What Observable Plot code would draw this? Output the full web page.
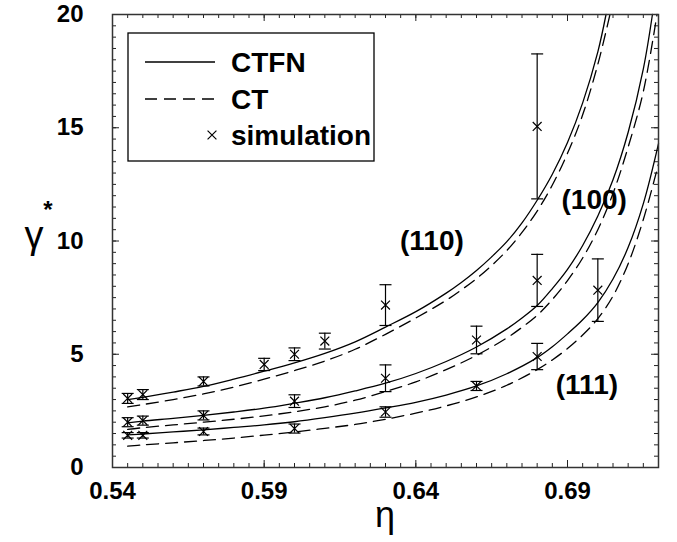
<!DOCTYPE html>
<html><head><meta charset="utf-8">
<script src="https://cdn.jsdelivr.net/npm/d3@7"></script>
<script src="https://cdn.jsdelivr.net/npm/@observablehq/plot@0.6"></script>
<style>body{margin:0;background:#fff}#chart{width:677px;height:542px}</style>
</head><body><div id="chart"></div>
<script>
// ---- axis ticks ----
const xTicks = [0.54, 0.59, 0.64, 0.69];
const yTicks = [0, 5, 10, 15, 20];

// ---- theory curves ----
const ctfn110Eta   = [0.545,0.55,0.56,0.57,0.58,0.59,0.60,0.61,0.62,0.63,0.64,0.65,0.655,0.66,0.665,0.67,0.675,0.68,0.685,0.69,0.695,0.70,0.7027];
const ctfn110Gamma = [3.00,3.10,3.33,3.58,3.90,4.25,4.62,5.04,5.55,6.20,6.88,7.70,8.17,8.70,9.30,9.97,10.80,11.80,12.95,14.35,16.10,18.35,20.0];
const ct110Eta     = [0.545,0.55,0.56,0.57,0.58,0.59,0.60,0.61,0.62,0.63,0.64,0.65,0.655,0.66,0.665,0.67,0.675,0.68,0.685,0.69,0.695,0.70,0.704];
const ct110Gamma   = [2.68,2.78,3.00,3.25,3.55,3.90,4.28,4.70,5.22,5.88,6.60,7.38,7.84,8.34,8.92,9.58,10.38,11.32,12.47,13.87,15.57,17.80,20.0];

const ctfn100Eta   = [0.545,0.55,0.56,0.57,0.58,0.59,0.60,0.61,0.62,0.63,0.64,0.65,0.66,0.67,0.675,0.68,0.685,0.69,0.695,0.70,0.705,0.71,0.715,0.718];
const ctfn100Gamma = [1.97,2.05,2.17,2.30,2.45,2.62,2.84,3.08,3.38,3.72,4.15,4.68,5.32,6.12,6.60,7.15,7.90,8.75,9.80,11.10,12.70,14.80,17.60,20.0];
const ct100Eta     = [0.545,0.55,0.56,0.57,0.58,0.59,0.60,0.61,0.62,0.63,0.64,0.65,0.66,0.67,0.675,0.68,0.685,0.69,0.695,0.70,0.705,0.71,0.715,0.7195];
const ct100Gamma   = [1.68,1.76,1.88,2.00,2.13,2.28,2.46,2.68,2.97,3.35,3.78,4.32,4.95,5.72,6.19,6.72,7.42,8.25,9.25,10.50,12.10,14.15,16.60,20.0];

const ctfn111Eta   = [0.545,0.55,0.56,0.57,0.58,0.59,0.60,0.61,0.62,0.63,0.64,0.65,0.66,0.67,0.68,0.685,0.69,0.695,0.70,0.705,0.71,0.715,0.72];
const ctfn111Gamma = [1.44,1.48,1.57,1.66,1.77,1.88,2.02,2.20,2.40,2.63,2.88,3.20,3.60,4.14,4.85,5.33,5.90,6.52,7.28,8.32,9.72,11.65,14.30];
const ct111Eta     = [0.545,0.55,0.56,0.57,0.58,0.59,0.60,0.61,0.62,0.63,0.64,0.65,0.66,0.67,0.68,0.685,0.69,0.695,0.70,0.705,0.71,0.715,0.72];
const ct111Gamma   = [0.94,1.00,1.09,1.19,1.30,1.43,1.57,1.73,1.90,2.13,2.40,2.72,3.12,3.63,4.32,4.75,5.25,5.85,6.57,7.57,9.00,10.95,13.40];

// ---- simulation points ----
const sim110Eta   = [0.545,0.55,0.57,0.59,0.60,0.61,0.63,0.68];
const sim110Gamma = [3.05,3.22,3.80,4.55,5.00,5.58,7.17,15.06];
const sim110Err   = [0.22,0.22,0.20,0.27,0.28,0.35,0.90,3.20];

const sim100Eta   = [0.545,0.55,0.57,0.60,0.63,0.66,0.68];
const sim100Gamma = [2.00,2.07,2.30,2.93,3.94,5.63,8.26];
const sim100Err   = [0.20,0.20,0.20,0.28,0.59,0.61,1.15];

const sim111Eta   = [0.545,0.55,0.57,0.60,0.63,0.66,0.68,0.70];
const sim111Gamma = [1.42,1.42,1.59,1.72,2.45,3.60,4.90,7.83];
const sim111Err   = [0.12,0.12,0.15,0.20,0.23,0.20,0.58,1.38];

// ---- curve labels ----
const familyNames = ["(110)", "(100)", "(111)"];
const familyLabelEta = [0.6453, 0.6988, 0.6964];
const familyLabelGamma = [10.0, 11.8, 3.66];

// ---- build tables ----
const toRows = (key, etas, gammas) => etas.map((e, i) => ({key, eta: e, gamma: gammas[i]}));
const solidRows = [
  ...toRows("110", ctfn110Eta, ctfn110Gamma),
  ...toRows("100", ctfn100Eta, ctfn100Gamma),
  ...toRows("111", ctfn111Eta, ctfn111Gamma)
];
const dashedRows = [
  ...toRows("110", ct110Eta, ct110Gamma),
  ...toRows("100", ct100Eta, ct100Gamma),
  ...toRows("111", ct111Eta, ct111Gamma)
];
const toPts = (etas, gammas, errs) => etas.map((e, i) => ({eta: e, gamma: gammas[i], err: errs[i]}));
const pts = [
  ...toPts(sim110Eta, sim110Gamma, sim110Err),
  ...toPts(sim100Eta, sim100Gamma, sim100Err),
  ...toPts(sim111Eta, sim111Gamma, sim111Err)
];
const labels = familyNames.map((t, i) => ({t, eta: familyLabelEta[i], gamma: familyLabelGamma[i]}));

const W = 677, H = 542, mL = 112, mR = 19, mT = 14, mB = 75;
const plotH = H - mT - mB, plotW = W - mL - mR;
const minorX = d3.range(0, 37).map(i => +(0.54 + i * 0.005).toFixed(3));
const minorY = d3.range(0, 41).map(i => i * 0.5);
const FONT = "'Liberation Sans', Arial, Helvetica, sans-serif";
const capSymbol = {draw(ctx) { ctx.moveTo(-6, 0); ctx.lineTo(6, 0); }};
const lineW = 1.3;
const markR = 4.1;

const svg = Plot.plot({
  width: W, height: H,
  marginLeft: mL, marginRight: mR, marginTop: mT, marginBottom: mB,
  style: {fontFamily: FONT, background: "white", color: "black"},
  x: {domain: [0.54, 0.72]},
  y: {domain: [0, 20]},
  marks: [
    // inward ticks on all four sides
    Plot.tickX(minorX, {x: d => d, insetTop: plotH - 4, stroke: "#222"}),
    Plot.tickX(minorX, {x: d => d, insetBottom: plotH - 4, stroke: "#222"}),
    Plot.tickX(xTicks, {x: d => d, insetTop: plotH - 7, stroke: "#222"}),
    Plot.tickX(xTicks, {x: d => d, insetBottom: plotH - 7, stroke: "#222"}),
    Plot.tickY(minorY, {y: d => d, insetRight: plotW - 4, stroke: "#222"}),
    Plot.tickY(minorY, {y: d => d, insetLeft: plotW - 4, stroke: "#222"}),
    Plot.tickY(yTicks, {y: d => d, insetRight: plotW - 7, stroke: "#222"}),
    Plot.tickY(yTicks, {y: d => d, insetLeft: plotW - 7, stroke: "#222"}),
    Plot.axisX(xTicks, {tickSize: 0, tickPadding: 14, tickFormat: d3.format(".2f"), fontSize: 24, fontWeight: "bold", label: null}),
    Plot.axisY(yTicks, {tickSize: 0, tickPadding: 29, fontSize: 24, fontWeight: "bold", label: null}),
    // theory curves
    Plot.line(solidRows, {x: "eta", y: "gamma", z: "key", stroke: "black", strokeWidth: lineW, curve: "catmull-rom"}),
    Plot.line(dashedRows, {x: "eta", y: "gamma", z: "key", stroke: "black", strokeWidth: lineW, strokeDasharray: "12,7", curve: "catmull-rom"}),
    // simulation with error bars
    Plot.ruleX(pts, {x: "eta", y1: d => d.gamma - d.err, y2: d => d.gamma + d.err, stroke: "black", strokeWidth: 1.2}),
    Plot.dot(pts, {x: "eta", y: d => d.gamma - d.err, symbol: capSymbol, stroke: "black", strokeWidth: 1.2, fill: "none"}),
    Plot.dot(pts, {x: "eta", y: d => d.gamma + d.err, symbol: capSymbol, stroke: "black", strokeWidth: 1.2, fill: "none"}),
    Plot.dot(pts, {x: "eta", y: "gamma", symbol: "times", r: markR, stroke: "black", strokeWidth: 1.2}),
    // family labels
    Plot.text(labels, {x: "eta", y: "gamma", text: "t", fontSize: 28, fontWeight: "bold", fill: "black"}),
    Plot.frame({stroke: "#333", strokeWidth: 1.5})
  ]
});

// legend and axis titles
const s = d3.select(svg);
const lg = s.append("g").attr("font-family", FONT).attr("font-weight", "bold").attr("font-size", 28).attr("text-anchor", "start");
lg.append("rect").attr("x", 128).attr("y", 33).attr("width", 246).attr("height", 128)
  .attr("fill", "white").attr("stroke", "black").attr("stroke-width", 1.3);
const legendItems = ["CTFN", "CT", "simulation"];
const rowY = [62, 99, 135];
lg.append("line").attr("x1", 145).attr("x2", 215).attr("y1", rowY[0]).attr("y2", rowY[0]).attr("stroke", "black").attr("stroke-width", lineW);
lg.append("line").attr("x1", 145).attr("x2", 215).attr("y1", rowY[1]).attr("y2", rowY[1]).attr("stroke", "black").attr("stroke-width", lineW).attr("stroke-dasharray", "12,7");
lg.append("path").attr("d", d3.symbol(d3.symbolTimes, markR * markR * Math.PI)()).attr("transform", `translate(212,${rowY[2]})`)
  .attr("stroke", "black").attr("stroke-width", 1.2).attr("fill", "none");
legendItems.forEach((t, i) => {
  lg.append("text").attr("x", 231).attr("y", rowY[i]).attr("dy", "0.36em").attr("text-anchor", "start").text(t);
});
s.append("text").attr("x", 385).attr("y", 518).attr("text-anchor", "middle").attr("dy", "0.25em")
  .attr("font-family", FONT).attr("font-size", 36).text("η");
s.append("text").attr("x", 34).attr("y", 238).attr("text-anchor", "middle").attr("dy", "0.25em")
  .attr("font-family", FONT).attr("font-size", 38).text("γ");
s.append("text").attr("x", 48).attr("y", 218).attr("text-anchor", "middle")
  .attr("font-family", FONT).attr("font-size", 24).attr("font-weight", "bold").text("*");

document.getElementById("chart").appendChild(svg);
</script>
</body></html>
